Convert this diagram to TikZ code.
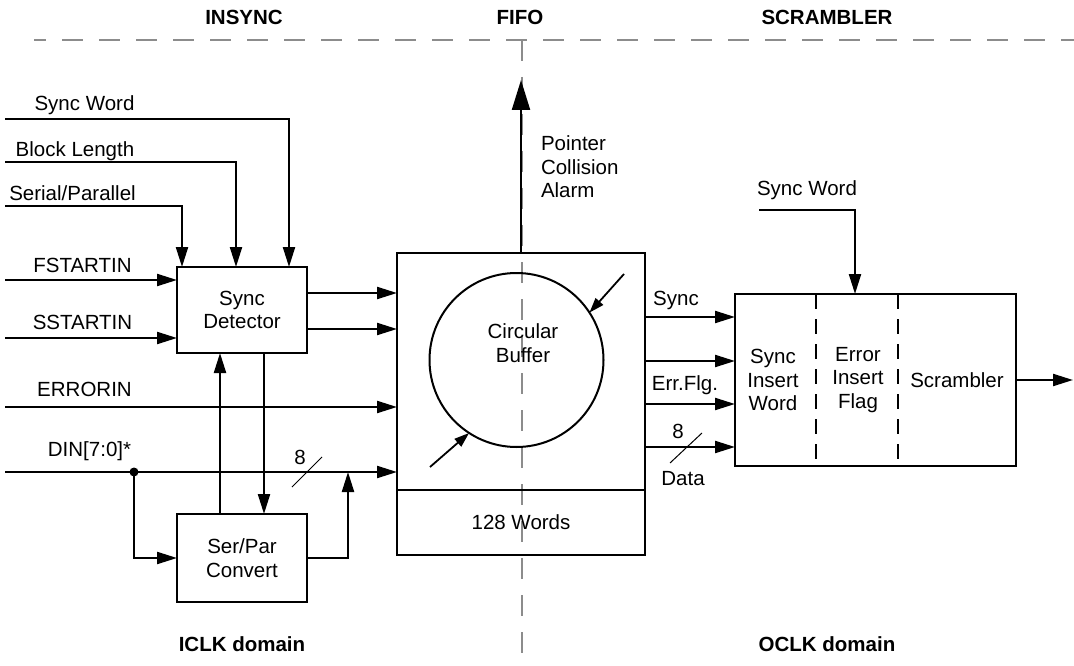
\documentclass[tikz,border=0pt]{standalone}
\usepackage{fontspec}
\setmainfont{Liberation Sans}
\usetikzlibrary{arrows.meta,calc}
\definecolor{divgray}{RGB}{140,140,140}
\begin{document}
\begin{tikzpicture}[x=1pt,y=-1pt,
  every node/.style={font=\fontsize{20.5}{23.5}\selectfont, inner sep=0pt, outer sep=0pt},
  hdr/.style={font=\fontsize{20.5}{23.5}\selectfont\bfseries, anchor=base},
  lbl/.style={anchor=base},
  box/.style={draw, line width=2.2pt, align=center},
  arr/.style={line width=2.2pt, -{Triangle[length=20pt,width=12pt]}},
  bigarr/.style={line width=2.2pt, -{Triangle[length=30pt,width=18pt]}},
  sarr/.style={line width=1.8pt, -{Triangle[length=15pt,width=10pt]}},
  divider/.style={divgray, line width=2pt, dash pattern=on 21pt off 16pt},
  subdiv/.style={line width=1.5pt, dash pattern=on 15pt off 10pt},
  slash/.style={line width=1pt},
  dot/.style={circle, fill, minimum size=9pt}]
\useasboundingbox (0,0) rectangle (1074,666);

% domain dividers
\draw[divider, dash phase=9pt] (34,40) -- (1074,40);
\draw[divider] (522,40) -- (522,666);

% headers and domain names
\node[hdr] (hIn) at (244,25) {INSYNC};
\node[hdr] (hFi) at (520,25) {FIFO};
\node[hdr] (hSc) at (827,25) {SCRAMBLER};
\node[hdr] (dI) at (242,651.5) {ICLK domain};
\node[hdr] (dO) at (827,651.5) {OCLK domain};

% blocks
\node[box, minimum width=130pt, minimum height=86pt] (sd) at (242,310) {Sync\\Detector};
\node[box, minimum width=130pt, minimum height=88pt] (sp) at (242,558) {Ser/Par\\Convert};
\node[box, minimum width=248pt, minimum height=237pt] (fifoT) at (521,371.5) {};
\node[box, minimum width=248pt, minimum height=65pt] (fifoB) at (521,522.5) {128 Words};
\node[draw, circle, line width=2pt, minimum size=174pt] (circ) at (516.5,360) {};
\node[align=center] (cb) at (523,343) {Circular\\Buffer};
\node[box, minimum width=281pt, minimum height=172pt] (scr) at (875.5,380) {};
\draw[subdiv] ($(scr.north west)+(81,0)$) -- ($(scr.south west)+(81,0)$);
\draw[subdiv] ($(scr.north west)+(163,0)$) -- ($(scr.south west)+(163,0)$);
\node[align=center] (t1) at (773,380) {Sync\\Insert\\Word};
\node[align=center] (t2) at (858,380) {Error\\Insert\\Flag};
\node (t3) at (957,380) {Scrambler};

% left inputs
\coordinate (swIn) at (5,119);
\coordinate (blIn) at (5,162);
\coordinate (spIn) at (5,206);
\coordinate (fsIn) at (5,280);
\coordinate (ssIn) at (5,338);
\coordinate (erIn) at (5,407);
\coordinate (dinIn) at (5,472);
\node[lbl] (lSW) at (84.5,111) {Sync Word};
\node[lbl] (lBL) at (75,156.5) {Block Length};
\node[lbl] (lSP) at (72.5,200.5) {Serial/Parallel};
\node[lbl] (lFS) at (82.5,272.5) {FSTARTIN};
\node[lbl] (lSS) at (82.5,329) {SSTARTIN};
\node[lbl] (lER) at (84.5,396.5) {ERRORIN};
\node[lbl] (lDI) at (89.5,456.5) {DIN[7:0]*};

\draw[arr] (swIn) -| ([xshift=47pt]sd.north);
\draw[arr] (blIn) -| ([xshift=-6pt]sd.north);
\draw[arr] (spIn) -| ([xshift=-60pt]sd.north);
\draw[arr] (fsIn) -- (fsIn -| sd.west);
\draw[arr] (ssIn) -- (ssIn -| sd.west);

\coordinate (sdo1) at (307,293);
\coordinate (sdo2) at (307,329);
\draw[arr] (sdo1) -- (sdo1 -| fifoT.west);
\draw[arr] (sdo2) -- (sdo2 -| fifoT.west);
\draw[arr] (erIn) -- (erIn -| fifoT.west);
\draw[arr] (dinIn) -- (dinIn -| fifoT.west);

\node[dot] (dot) at (134,472) {};
\draw[arr] (dot.center) |- (sp.west);
\coordinate (mrg) at (348,472);
\draw[arr] (sp.east) -| (mrg);
\draw[arr] ([xshift=22pt]sd.south) -- ([xshift=22pt]sp.north);
\draw[arr] ([xshift=-22pt]sp.north) -- ([xshift=-22pt]sd.south);
\coordinate (s1a) at (292,487);
\coordinate (s1b) at (322,457);
\draw[slash] (s1a) -- (s1b);
\node[lbl] (n8a) at (300,464) {8};

% FIFO alarm output
\coordinate (alarm) at (521,80);
\draw[bigarr] (fifoT.north) -- (alarm);
\node[anchor=west, align=left] (pca) at (541,167) {Pointer\\Collision\\Alarm};

% pointers
\coordinate (wp) at (624,274);
\coordinate (rp) at (430,467);
\draw[sarr] (wp) -- (circ.33);
\draw[sarr] (rp) -- (circ.237);

% FIFO outputs
\coordinate (fo1) at (645,317);
\coordinate (fo2) at (645,361);
\coordinate (fo3) at (645,404);
\coordinate (fo4) at (645,447);
\draw[arr] (fo1) -- (fo1 -| scr.west);
\draw[arr] (fo2) -- (fo2 -| scr.west);
\draw[arr] (fo3) -- (fo3 -| scr.west);
\draw[arr] (fo4) -- (fo4 -| scr.west);
\node[lbl] (lSy) at (676,305) {Sync};
\node[lbl] (lEF) at (685,390) {Err.Flg.};
\node[lbl] (n8b) at (678,438) {8};
\node[lbl] (lDa) at (683,485) {Data};
\coordinate (s2a) at (670,463);
\coordinate (s2b) at (702,433);
\draw[slash] (s2a) -- (s2b);

% scrambler sync word and output
\coordinate (sw2In) at (759,210);
\node[lbl] (lSW2) at (807,195) {Sync Word};
\draw[arr] (sw2In) -| ([xshift=-20.5pt]scr.north);
\coordinate (scrOut) at (1073,380);
\draw[arr] (scr.east) -- (scrOut);
\end{tikzpicture}
\end{document}
